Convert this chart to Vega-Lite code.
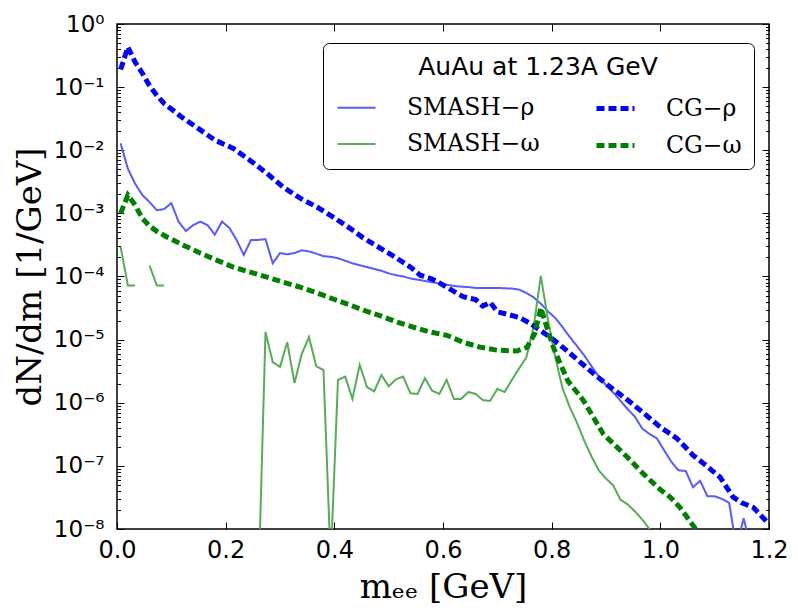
{
"$schema": "https://vega.github.io/schema/vega-lite/v6.json",
"width": 652, "height": 505,
"autosize": {"type": "none"},
"padding": {"left": 117, "top": 24, "right": 29, "bottom": 86},
"background": "white",
"config": {
  "view": {"stroke": "black", "strokeWidth": 1.5},
  "axis": {"grid": false, "domain": false, "labelFlush": false, "tickColor": "black", "tickWidth": 1, "labelColor": "black", "labelFont": "DejaVu Sans", "labelFontSize": 24, "titleFont": "DejaVu Serif", "titleFontSize": 34, "titleFontWeight": "normal", "titleColor": "black"},
  "legend": {"titleFont": "DejaVu Sans", "titleFontSize": 25, "titleFontWeight": "normal", "titleColor": "black", "titleAnchor": "middle", "titleAlign": "center", "titleLimit": 600, "labelFont": "DejaVu Serif", "labelFontSize": 23.5, "labelColor": "black", "symbolType": "stroke", "symbolSize": 1444, "columns": 2, "columnPadding": 46, "rowPadding": 4, "labelOffset": 29, "padding": 12, "strokeColor": "black", "fillColor": "white", "cornerRadius": 6, "titlePadding": 7, "labelLimit": 300, "gridAlign": "each"}
},
"data": {"values": [
{"s":"SMASH−ρ","x":0.0067,"y":1.29e-2},{"s":"SMASH−ρ","x":0.02,"y":5.1e-3},{"s":"SMASH−ρ","x":0.0333,"y":2.95e-3},{"s":"SMASH−ρ","x":0.0467,"y":1.95e-3},{"s":"SMASH−ρ","x":0.06,"y":1.51e-3},{"s":"SMASH−ρ","x":0.0733,"y":1.12e-3},{"s":"SMASH−ρ","x":0.0867,"y":1.17e-3},{"s":"SMASH−ρ","x":0.1,"y":1.45e-3},{"s":"SMASH−ρ","x":0.1133,"y":7.4e-4},{"s":"SMASH−ρ","x":0.1267,"y":5.25e-4},{"s":"SMASH−ρ","x":0.14,"y":6.5e-4},{"s":"SMASH−ρ","x":0.1533,"y":7.4e-4},{"s":"SMASH−ρ","x":0.1667,"y":6.5e-4},{"s":"SMASH−ρ","x":0.18,"y":4.6e-4},{"s":"SMASH−ρ","x":0.1933,"y":7.4e-4},{"s":"SMASH−ρ","x":0.2067,"y":5.9e-4},{"s":"SMASH−ρ","x":0.22,"y":3.8e-4},{"s":"SMASH−ρ","x":0.2333,"y":2.2e-4},{"s":"SMASH−ρ","x":0.2467,"y":3.8e-4},{"s":"SMASH−ρ","x":0.26,"y":3.8e-4},{"s":"SMASH−ρ","x":0.2733,"y":3.9e-4},{"s":"SMASH−ρ","x":0.2867,"y":1.62e-4},{"s":"SMASH−ρ","x":0.3,"y":2.35e-4},{"s":"SMASH−ρ","x":0.3133,"y":2.25e-4},{"s":"SMASH−ρ","x":0.3267,"y":2.35e-4},{"s":"SMASH−ρ","x":0.34,"y":2.6e-4},{"s":"SMASH−ρ","x":0.3533,"y":2.5e-4},{"s":"SMASH−ρ","x":0.3667,"y":2.3e-4},{"s":"SMASH−ρ","x":0.38,"y":2.1e-4},{"s":"SMASH−ρ","x":0.3933,"y":2.05e-4},{"s":"SMASH−ρ","x":0.4067,"y":1.95e-4},{"s":"SMASH−ρ","x":0.42,"y":1.78e-4},{"s":"SMASH−ρ","x":0.4333,"y":1.62e-4},{"s":"SMASH−ρ","x":0.4467,"y":1.51e-4},{"s":"SMASH−ρ","x":0.46,"y":1.41e-4},{"s":"SMASH−ρ","x":0.4733,"y":1.32e-4},{"s":"SMASH−ρ","x":0.4867,"y":1.23e-4},{"s":"SMASH−ρ","x":0.5,"y":1.12e-4},{"s":"SMASH−ρ","x":0.5133,"y":1.05e-4},{"s":"SMASH−ρ","x":0.5267,"y":1.0e-4},{"s":"SMASH−ρ","x":0.54,"y":9.3e-5},{"s":"SMASH−ρ","x":0.5533,"y":8.9e-5},{"s":"SMASH−ρ","x":0.5667,"y":8.5e-5},{"s":"SMASH−ρ","x":0.58,"y":8.1e-5},{"s":"SMASH−ρ","x":0.5933,"y":7.8e-5},{"s":"SMASH−ρ","x":0.6067,"y":7.4e-5},{"s":"SMASH−ρ","x":0.62,"y":7.1e-5},{"s":"SMASH−ρ","x":0.6333,"y":6.9e-5},{"s":"SMASH−ρ","x":0.6467,"y":6.8e-5},{"s":"SMASH−ρ","x":0.66,"y":6.6e-5},{"s":"SMASH−ρ","x":0.6733,"y":6.6e-5},{"s":"SMASH−ρ","x":0.6867,"y":6.6e-5},{"s":"SMASH−ρ","x":0.7,"y":6.6e-5},{"s":"SMASH−ρ","x":0.7133,"y":6.5e-5},{"s":"SMASH−ρ","x":0.7267,"y":6.45e-5},{"s":"SMASH−ρ","x":0.74,"y":6.2e-5},{"s":"SMASH−ρ","x":0.7533,"y":5.5e-5},{"s":"SMASH−ρ","x":0.7667,"y":4.7e-5},{"s":"SMASH−ρ","x":0.78,"y":3.7e-5},{"s":"SMASH−ρ","x":0.7933,"y":2.8e-5},{"s":"SMASH−ρ","x":0.8067,"y":2.2e-5},{"s":"SMASH−ρ","x":0.82,"y":1.58e-5},{"s":"SMASH−ρ","x":0.8333,"y":1.1e-5},{"s":"SMASH−ρ","x":0.8467,"y":7.9e-6},{"s":"SMASH−ρ","x":0.86,"y":5.6e-6},{"s":"SMASH−ρ","x":0.8733,"y":3.8e-6},{"s":"SMASH−ρ","x":0.8867,"y":2.6e-6},{"s":"SMASH−ρ","x":0.9,"y":1.9e-6},{"s":"SMASH−ρ","x":0.9133,"y":1.45e-6},{"s":"SMASH−ρ","x":0.9267,"y":1.07e-6},{"s":"SMASH−ρ","x":0.94,"y":7.9e-7},{"s":"SMASH−ρ","x":0.9533,"y":6.0e-7},{"s":"SMASH−ρ","x":0.9667,"y":3.9e-7},{"s":"SMASH−ρ","x":0.98,"y":3.2e-7},{"s":"SMASH−ρ","x":0.9933,"y":2.75e-7},{"s":"SMASH−ρ","x":1.0067,"y":1.78e-7},{"s":"SMASH−ρ","x":1.02,"y":1.17e-7},{"s":"SMASH−ρ","x":1.0333,"y":8.5e-8},{"s":"SMASH−ρ","x":1.0467,"y":8.3e-8},{"s":"SMASH−ρ","x":1.06,"y":4.6e-8},{"s":"SMASH−ρ","x":1.0733,"y":5.8e-8},{"s":"SMASH−ρ","x":1.0867,"y":3.3e-8},{"s":"SMASH−ρ","x":1.1,"y":3.3e-8},{"s":"SMASH−ρ","x":1.1133,"y":3.0e-8},{"s":"SMASH−ρ","x":1.1267,"y":2.6e-8},{"s":"SMASH−ρ","x":1.14,"y":5e-9},{"s":"SMASH−ρ","x":1.1533,"y":1.48e-8},{"s":"SMASH−ρ","x":1.1667,"y":5e-9},
{"s":"SMASH−ω","x":0.0067,"y":2.95e-4},{"s":"SMASH−ω","x":0.02,"y":7.2e-5},{"s":"SMASH−ω","x":0.0333,"y":7.2e-5},{"s":"SMASH−ω","x":0.0467,"y":null},{"s":"SMASH−ω","x":0.06,"y":1.48e-4},{"s":"SMASH−ω","x":0.0733,"y":7.2e-5},{"s":"SMASH−ω","x":0.0867,"y":7.2e-5},{"s":"SMASH−ω","x":0.1,"y":null},{"s":"SMASH−ω","x":0.26,"y":1e-9},{"s":"SMASH−ω","x":0.2733,"y":1.32e-5},{"s":"SMASH−ω","x":0.2867,"y":4.4e-6},{"s":"SMASH−ω","x":0.3,"y":3.7e-6},{"s":"SMASH−ω","x":0.3133,"y":9.1e-6},{"s":"SMASH−ω","x":0.3267,"y":2.05e-6},{"s":"SMASH−ω","x":0.34,"y":5.9e-6},{"s":"SMASH−ω","x":0.3533,"y":1.1e-5},{"s":"SMASH−ω","x":0.3667,"y":3.8e-6},{"s":"SMASH−ω","x":0.38,"y":3.3e-6},{"s":"SMASH−ω","x":0.3933,"y":3e-9},{"s":"SMASH−ω","x":0.4067,"y":2.3e-6},{"s":"SMASH−ω","x":0.42,"y":2.6e-6},{"s":"SMASH−ω","x":0.4333,"y":1.15e-6},{"s":"SMASH−ω","x":0.4467,"y":4.0e-6},{"s":"SMASH−ω","x":0.46,"y":1.78e-6},{"s":"SMASH−ω","x":0.4733,"y":1.51e-6},{"s":"SMASH−ω","x":0.4867,"y":2.75e-6},{"s":"SMASH−ω","x":0.5,"y":1.82e-6},{"s":"SMASH−ω","x":0.5133,"y":2.35e-6},{"s":"SMASH−ω","x":0.5267,"y":2.6e-6},{"s":"SMASH−ω","x":0.54,"y":1.41e-6},{"s":"SMASH−ω","x":0.5533,"y":1.38e-6},{"s":"SMASH−ω","x":0.5667,"y":2.45e-6},{"s":"SMASH−ω","x":0.58,"y":1.55e-6},{"s":"SMASH−ω","x":0.5933,"y":1.38e-6},{"s":"SMASH−ω","x":0.6067,"y":2.3e-6},{"s":"SMASH−ω","x":0.62,"y":1.15e-6},{"s":"SMASH−ω","x":0.6333,"y":1.15e-6},{"s":"SMASH−ω","x":0.6467,"y":1.48e-6},{"s":"SMASH−ω","x":0.66,"y":1.38e-6},{"s":"SMASH−ω","x":0.6733,"y":1.1e-6},{"s":"SMASH−ω","x":0.6867,"y":1.07e-6},{"s":"SMASH−ω","x":0.7,"y":1.66e-6},{"s":"SMASH−ω","x":0.7133,"y":1.48e-6},{"s":"SMASH−ω","x":0.7267,"y":2.3e-6},{"s":"SMASH−ω","x":0.74,"y":3.5e-6},{"s":"SMASH−ω","x":0.7533,"y":5.2e-6},{"s":"SMASH−ω","x":0.7667,"y":1.58e-5},{"s":"SMASH−ω","x":0.78,"y":1.02e-4},{"s":"SMASH−ω","x":0.7933,"y":2.05e-5},{"s":"SMASH−ω","x":0.8067,"y":5.2e-6},{"s":"SMASH−ω","x":0.82,"y":1.7e-6},{"s":"SMASH−ω","x":0.8333,"y":8.5e-7},{"s":"SMASH−ω","x":0.8467,"y":4.8e-7},{"s":"SMASH−ω","x":0.86,"y":2.5e-7},{"s":"SMASH−ω","x":0.8733,"y":1.41e-7},{"s":"SMASH−ω","x":0.8867,"y":8.5e-8},{"s":"SMASH−ω","x":0.9,"y":6.3e-8},{"s":"SMASH−ω","x":0.9133,"y":4.9e-8},{"s":"SMASH−ω","x":0.9267,"y":2.9e-8},{"s":"SMASH−ω","x":0.94,"y":2.45e-8},{"s":"SMASH−ω","x":0.9533,"y":1.9e-8},{"s":"SMASH−ω","x":0.9667,"y":1.41e-8},{"s":"SMASH−ω","x":0.98,"y":1.0e-8},{"s":"SMASH−ω","x":0.9933,"y":5e-9},
{"s":"CG−ρ","x":0.0067,"y":0.19},{"s":"CG−ρ","x":0.02,"y":0.43},{"s":"CG−ρ","x":0.0333,"y":0.25},{"s":"CG−ρ","x":0.0467,"y":0.166},{"s":"CG−ρ","x":0.06,"y":0.105},{"s":"CG−ρ","x":0.0733,"y":0.074},{"s":"CG−ρ","x":0.0867,"y":0.055},{"s":"CG−ρ","x":0.1,"y":0.045},{"s":"CG−ρ","x":0.12,"y":0.033},{"s":"CG−ρ","x":0.15,"y":0.022},{"s":"CG−ρ","x":0.18,"y":0.0145},{"s":"CG−ρ","x":0.214,"y":0.0107},{"s":"CG−ρ","x":0.245,"y":6.9e-3},{"s":"CG−ρ","x":0.276,"y":4.3e-3},{"s":"CG−ρ","x":0.306,"y":2.6e-3},{"s":"CG−ρ","x":0.337,"y":1.74e-3},{"s":"CG−ρ","x":0.368,"y":1.26e-3},{"s":"CG−ρ","x":0.398,"y":8.7e-4},{"s":"CG−ρ","x":0.429,"y":5.8e-4},{"s":"CG−ρ","x":0.453,"y":4.1e-4},{"s":"CG−ρ","x":0.485,"y":2.8e-4},{"s":"CG−ρ","x":0.515,"y":1.95e-4},{"s":"CG−ρ","x":0.54,"y":1.41e-4},{"s":"CG−ρ","x":0.558,"y":1.05e-4},{"s":"CG−ρ","x":0.58,"y":9.1e-5},{"s":"CG−ρ","x":0.595,"y":7.8e-5},{"s":"CG−ρ","x":0.62,"y":5.8e-5},{"s":"CG−ρ","x":0.637,"y":4.8e-5},{"s":"CG−ρ","x":0.66,"y":4.3e-5},{"s":"CG−ρ","x":0.673,"y":3.4e-5},{"s":"CG−ρ","x":0.687,"y":3.9e-5},{"s":"CG−ρ","x":0.7,"y":2.75e-5},{"s":"CG−ρ","x":0.72,"y":2.5e-5},{"s":"CG−ρ","x":0.74,"y":2.25e-5},{"s":"CG−ρ","x":0.76,"y":1.82e-5},{"s":"CG−ρ","x":0.78,"y":1.38e-5},{"s":"CG−ρ","x":0.8,"y":1.05e-5},{"s":"CG−ρ","x":0.82,"y":7.6e-6},{"s":"CG−ρ","x":0.85,"y":4.6e-6},{"s":"CG−ρ","x":0.876,"y":2.95e-6},{"s":"CG−ρ","x":0.9,"y":2.0e-6},{"s":"CG−ρ","x":0.94,"y":1.1e-6},{"s":"CG−ρ","x":0.97,"y":6.8e-7},{"s":"CG−ρ","x":1.0,"y":4.1e-7},{"s":"CG−ρ","x":1.03,"y":2.75e-7},{"s":"CG−ρ","x":1.06,"y":1.48e-7},{"s":"CG−ρ","x":1.085,"y":1.0e-7},{"s":"CG−ρ","x":1.11,"y":6.6e-8},{"s":"CG−ρ","x":1.134,"y":3.2e-8},{"s":"CG−ρ","x":1.15,"y":2.6e-8},{"s":"CG−ρ","x":1.171,"y":2.2e-8},{"s":"CG−ρ","x":1.2,"y":1.2e-8},
{"s":"CG−ω","x":0.0067,"y":1.0e-3},{"s":"CG−ω","x":0.02,"y":1.95e-3},{"s":"CG−ω","x":0.0333,"y":1.35e-3},{"s":"CG−ω","x":0.0467,"y":8.3e-4},{"s":"CG−ω","x":0.06,"y":6.3e-4},{"s":"CG−ω","x":0.0733,"y":5.2e-4},{"s":"CG−ω","x":0.09,"y":4.3e-4},{"s":"CG−ω","x":0.12,"y":3.2e-4},{"s":"CG−ω","x":0.153,"y":2.35e-4},{"s":"CG−ω","x":0.183,"y":1.82e-4},{"s":"CG−ω","x":0.214,"y":1.41e-4},{"s":"CG−ω","x":0.245,"y":1.17e-4},{"s":"CG−ω","x":0.276,"y":9.8e-5},{"s":"CG−ω","x":0.306,"y":8.1e-5},{"s":"CG−ω","x":0.337,"y":6.8e-5},{"s":"CG−ω","x":0.368,"y":5.5e-5},{"s":"CG−ω","x":0.398,"y":4.4e-5},{"s":"CG−ω","x":0.43,"y":3.5e-5},{"s":"CG−ω","x":0.46,"y":2.8e-5},{"s":"CG−ω","x":0.49,"y":2.3e-5},{"s":"CG−ω","x":0.515,"y":1.9e-5},{"s":"CG−ω","x":0.545,"y":1.58e-5},{"s":"CG−ω","x":0.576,"y":1.32e-5},{"s":"CG−ω","x":0.607,"y":1.17e-5},{"s":"CG−ω","x":0.637,"y":9.1e-6},{"s":"CG−ω","x":0.668,"y":7.6e-6},{"s":"CG−ω","x":0.7,"y":6.8e-6},{"s":"CG−ω","x":0.736,"y":6.6e-6},{"s":"CG−ω","x":0.755,"y":7.6e-6},{"s":"CG−ω","x":0.769,"y":1.26e-5},{"s":"CG−ω","x":0.78,"y":3.2e-5},{"s":"CG−ω","x":0.791,"y":1.58e-5},{"s":"CG−ω","x":0.803,"y":7.6e-6},{"s":"CG−ω","x":0.815,"y":4.3e-6},{"s":"CG−ω","x":0.83,"y":2.2e-6},{"s":"CG−ω","x":0.858,"y":1.1e-6},{"s":"CG−ω","x":0.895,"y":3.2e-7},{"s":"CG−ω","x":0.939,"y":1.38e-7},{"s":"CG−ω","x":0.968,"y":7.6e-8},{"s":"CG−ω","x":1.0,"y":4.2e-8},{"s":"CG−ω","x":1.018,"y":3.2e-8},{"s":"CG−ω","x":1.036,"y":2.2e-8},{"s":"CG−ω","x":1.067,"y":9.5e-9},{"s":"CG−ω","x":1.08,"y":5e-9}
]},
"layer": [
{
  "mark": {"type": "line", "clip": true, "invalid": "break-paths-filter-domains", "strokeCap": "butt"},
  "encoding": {
    "x": {"field": "x", "type": "quantitative", "scale": {"domain": [0, 1.2], "nice": false, "zero": false},
      "axis": {"orient": "bottom", "values": [0, 0.2, 0.4, 0.6, 0.8, 1.0, 1.2], "format": ".1f", "tickSize": -7, "labelPadding": 16, "title": "mₑₑ [GeV]", "titlePadding": 8}},
    "y": {"field": "y", "type": "quantitative", "scale": {"type": "log", "domain": [1e-8, 1], "nice": false},
      "axis": {"orient": "left", "values": [1e-8, 1e-7, 1e-6, 1e-5, 1e-4, 1e-3, 1e-2, 1e-1, 1], "tickSize": -7, "labelPadding": 20, "labelFontSize": 23,
        "labelExpr": "'10' + (datum.value < 0.5 ? '⁻' : '') + ['⁰','¹','²','³','⁴','⁵','⁶','⁷','⁸'][abs(round(log(datum.value)/LN10))]",
        "title": "dN/dm [1/GeV]", "titlePadding": 6}},
    "color": {"field": "s", "type": "nominal", "scale": {"domain": ["SMASH−ρ", "SMASH−ω", "CG−ρ", "CG−ω"], "range": ["#5a5aff", "#58ab58", "#0000ff", "#008000"]},
      "legend": {"title": "AuAu at 1.23A GeV", "orient": "none", "legendX": 206, "legendY": 19}},
    "strokeDash": {"field": "s", "type": "nominal", "scale": {"domain": ["SMASH−ρ", "SMASH−ω", "CG−ρ", "CG−ω"], "range": [[1, 0], [1, 0], [8, 4], [8, 4]]},
      "legend": {"title": "AuAu at 1.23A GeV", "orient": "none", "legendX": 206, "legendY": 19}},
    "strokeWidth": {"field": "s", "type": "nominal", "scale": {"type": "ordinal", "domain": ["SMASH−ρ", "SMASH−ω", "CG−ρ", "CG−ω"], "range": [2, 2, 5, 5]},
      "legend": {"title": "AuAu at 1.23A GeV", "orient": "none", "legendX": 206, "legendY": 19}}
  }
},
{
  "mark": {"type": "line", "opacity": 0},
  "encoding": {
    "x": {"field": "x", "type": "quantitative", "scale": {"domain": [0, 1.2], "nice": false, "zero": false},
      "axis": {"orient": "top", "values": [0, 0.2, 0.4, 0.6, 0.8, 1.0, 1.2], "labels": false, "tickSize": -7, "title": null}},
    "y": {"field": "y", "type": "quantitative", "scale": {"type": "log", "domain": [1e-8, 1], "nice": false},
      "axis": {"orient": "right", "values": [1e-8, 1e-7, 1e-6, 1e-5, 1e-4, 1e-3, 1e-2, 1e-1, 1], "labels": false, "tickSize": -7, "title": null}}
  }
},
{
  "mark": {"type": "line", "opacity": 0},
  "encoding": {
    "x": {"field": "x", "type": "quantitative", "scale": {"domain": [0, 1.2], "nice": false, "zero": false}, "axis": null},
    "y": {"field": "y", "type": "quantitative", "scale": {"type": "log", "domain": [1e-8, 1], "nice": false},
      "axis": {"orient": "left", "values": [2e-8,3e-8,4e-8,5e-8,6e-8,7e-8,8e-8,9e-8,2e-7,3e-7,4e-7,5e-7,6e-7,7e-7,8e-7,9e-7,2e-6,3e-6,4e-6,5e-6,6e-6,7e-6,8e-6,9e-6,2e-5,3e-5,4e-5,5e-5,6e-5,7e-5,8e-5,9e-5,2e-4,3e-4,4e-4,5e-4,6e-4,7e-4,8e-4,9e-4,2e-3,3e-3,4e-3,5e-3,6e-3,7e-3,8e-3,9e-3,2e-2,3e-2,4e-2,5e-2,6e-2,7e-2,8e-2,9e-2,0.2,0.3,0.4,0.5,0.6,0.7,0.8,0.9], "labels": false, "tickSize": -3.5, "title": null}}
  }
},
{
  "mark": {"type": "line", "opacity": 0},
  "encoding": {
    "x": {"field": "x", "type": "quantitative", "scale": {"domain": [0, 1.2], "nice": false, "zero": false}, "axis": null},
    "y": {"field": "y", "type": "quantitative", "scale": {"type": "log", "domain": [1e-8, 1], "nice": false},
      "axis": {"orient": "right", "values": [2e-8,3e-8,4e-8,5e-8,6e-8,7e-8,8e-8,9e-8,2e-7,3e-7,4e-7,5e-7,6e-7,7e-7,8e-7,9e-7,2e-6,3e-6,4e-6,5e-6,6e-6,7e-6,8e-6,9e-6,2e-5,3e-5,4e-5,5e-5,6e-5,7e-5,8e-5,9e-5,2e-4,3e-4,4e-4,5e-4,6e-4,7e-4,8e-4,9e-4,2e-3,3e-3,4e-3,5e-3,6e-3,7e-3,8e-3,9e-3,2e-2,3e-2,4e-2,5e-2,6e-2,7e-2,8e-2,9e-2,0.2,0.3,0.4,0.5,0.6,0.7,0.8,0.9], "labels": false, "tickSize": -3.5, "title": null}}
  }
}
],
"resolve": {"axis": {"x": "independent", "y": "independent"}}
}
